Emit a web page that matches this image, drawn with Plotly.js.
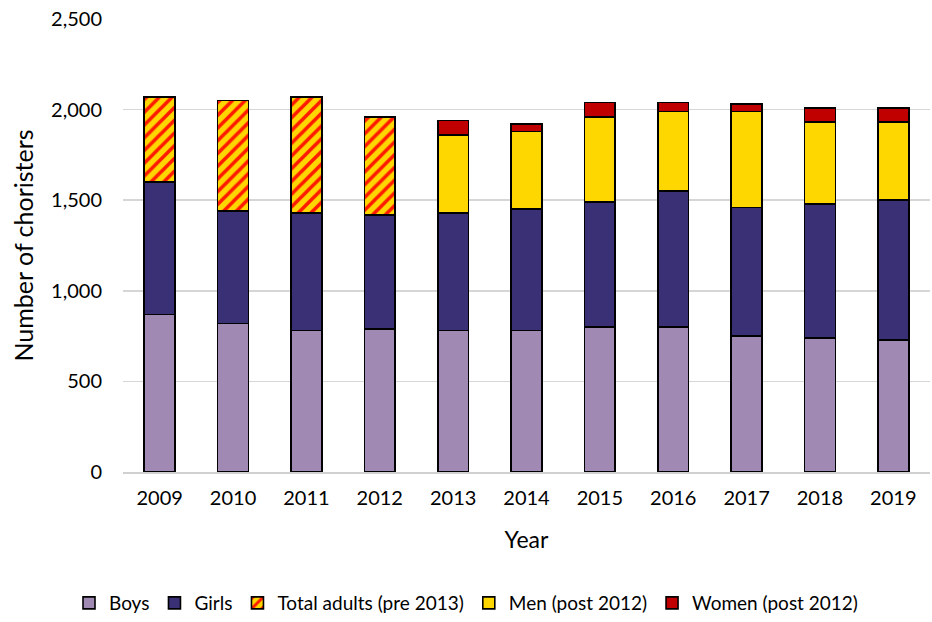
<!DOCTYPE html>
<html>
<head>
<meta charset="utf-8">
<script src="https://cdn.plot.ly/plotly-3.0.1.min.js"></script>
<style>html,body{margin:0;padding:0;background:#fff;}#chart{width:932px;height:622px;}</style>
</head>
<body>
<div id="chart"></div>
<script>
const years = ["2009","2010","2011","2012","2013","2014","2015","2016","2017","2018","2019"];
const boys = [870, 820, 780, 790, 780, 780, 800, 800, 750, 740, 730];
const girls = [730, 620, 650, 630, 650, 670, 690, 750, 710, 740, 770];
const totalAdults = [470, 610, 640, 540, null, null, null, null, null, null, null];
const men = [null, null, null, null, 430, 430, 470, 440, 530, 450, 430];
const women = [null, null, null, null, 80, 40, 80, 50, 40, 80, 80];

const line = {color: '#000000', width: 1.6};
const font = 'Lato, "Open Sans", sans-serif';

const traces = [
  {name: 'Boys', y: boys, marker: {color: '#A08AB4', line: line}},
  {name: 'Girls', y: girls, marker: {color: '#3A3075', line: line}},
  {name: 'Total adults (pre 2013)', y: totalAdults,
   marker: {color: '#FFD700', line: line,
            pattern: {shape: '/', bgcolor: '#FFD700', fgcolor: '#FF1A00', size: 9, solidity: 0.4}}},
  {name: 'Men (post 2012)', y: men, marker: {color: '#FFD700', line: line}},
  {name: 'Women (post 2012)', y: women, marker: {color: '#C00000', line: line}}
].map(t => Object.assign({type: 'bar', x: years, hoverinfo: 'y+name'}, t));

const layout = {
  width: 932, height: 622,
  margin: {l: 123, r: 2, t: 19, b: 150},
  barmode: 'stack',
  bargap: 0.58,
  paper_bgcolor: '#ffffff', plot_bgcolor: '#ffffff',
  font: {family: font, size: 20, color: '#000000'},
  xaxis: {
    type: 'category',
    title: {text: 'Year', font: {size: 23}, standoff: 24},
    showline: true, linecolor: '#d0d0d0', linewidth: 1.5,
    ticks: '', tickfont: {size: 20}, showgrid: false,
    ticklabelstandoff: 7
  },
  yaxis: {
    range: [0, 2500], dtick: 500, tickformat: ',d',
    title: {text: 'Number of choristers', font: {size: 25}, standoff: 10},
    showgrid: true, gridcolor: '#d6d6d6', gridwidth: 1.5,
    zeroline: false, showline: false, ticks: '',
    tickfont: {size: 20}, ticklabelstandoff: 20
  },
  legend: {
    orientation: 'h', x: 0.5, xanchor: 'center', xref: 'container',
    y: 0.0, yanchor: 'bottom', yref: 'container',
    font: {size: 19}, traceorder: 'normal',
    itemwidth: 30, tracegroupgap: 0
  },
  showlegend: true
};

Plotly.newPlot('chart', traces, layout, {displayModeBar: false, staticPlot: true});
</script>
</body>
</html>
